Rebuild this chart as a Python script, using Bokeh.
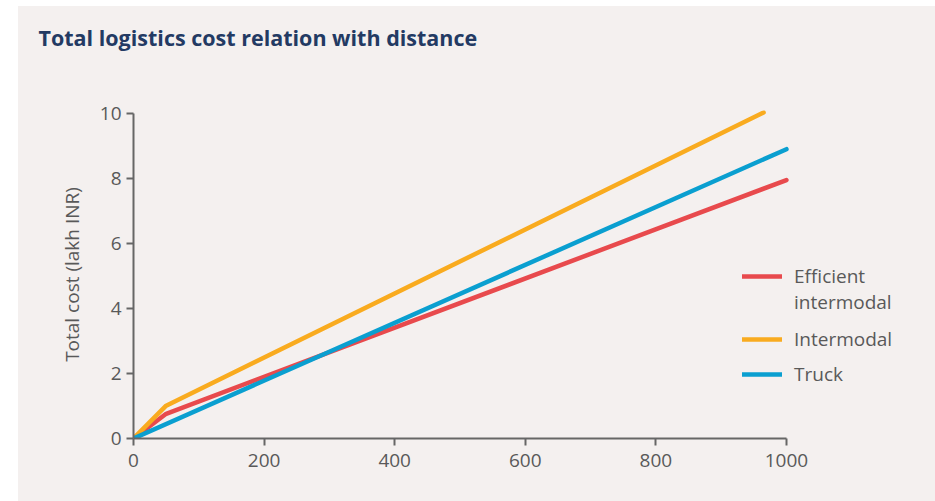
from bokeh.plotting import figure
from bokeh.models import Legend, LegendItem, Spacer, Range1d
from bokeh.layouts import row, column
from bokeh.embed import file_html
from bokeh.resources import INLINE

# Data
title_text = "Total logistics cost relation with distance"
series_names = ["Efficient intermodal", "Intermodal", "Truck"]
eff_x = [0, 50, 1000]
eff_y = [0, 0.76, 7.95]
inter_x = [0, 50, 965]
inter_y = [0, 1.01, 10.03]
truck_x = [0, 1000]
truck_y = [0, 8.9]
x_ticks = [0, 200, 400, 600, 800, 1000]
y_ticks = [0, 2, 4, 6, 8, 10]
colors = ["#e84a4d", "#f9ab1f", "#0a9fd0"]

BG = "#f4f0ef"
TXT = "#595959"
AX = "#666666"
FONT = "Open Sans"
LB, RB = 115, 25

# --- title strip: small figure whose only content is its title ---
TH = 64
tf = figure(width=917, height=TH, output_backend="svg", toolbar_location=None,
            x_range=Range1d(0, 1), y_range=Range1d(0, 1),
            min_border_left=LB, min_border_right=RB, min_border_top=0, min_border_bottom=0,
            x_axis_type=None, y_axis_type=None)
tf.grid.visible = False
tf.outline_line_color = None
tf.background_fill_color = BG
tf.border_fill_color = BG
tf.title.text = title_text
tf.title.text_font = FONT
tf.title.text_font_size = "21.5px"
tf.title.text_font_style = "bold"
tf.title.text_color = "#233a63"
tf.title.align = "left"
tf.title.offset = -95
tf.title.standoff = 28

# --- main chart ---
p = figure(width=917, height=495 - TH, output_backend="svg", toolbar_location=None,
           x_range=Range1d(0, 1190), y_range=Range1d(0, 10.09),
           min_border_left=LB, min_border_right=RB, min_border_top=40,
           min_border_bottom=63)
p.background_fill_color = BG
p.border_fill_color = BG
p.outline_line_color = None
p.xgrid.visible = False
p.ygrid.visible = False

xs = [eff_x, inter_x, truck_x]
ys = [eff_y, inter_y, truck_y]
rends = []
for xv, yv, c in zip(xs, ys, colors):
    r = p.line(xv, yv, line_color=c, line_width=4.5, line_cap="round", line_join="round")
    rends.append(r)
blank = p.line([], [], line_color=None)

for ax in (p.xaxis[0], p.yaxis[0]):
    ax.axis_line_color = AX
    ax.axis_line_width = 2
    ax.major_tick_line_color = AX
    ax.major_tick_line_width = 2
    ax.major_tick_out = 7
    ax.major_tick_in = 0
    ax.minor_tick_line_color = None
    ax.major_label_text_font = FONT
    ax.major_label_text_font_size = "19px"
    ax.major_label_text_color = TXT
p.xaxis.major_label_standoff = 8
p.yaxis.major_label_standoff = 5

p.xaxis.ticker = x_ticks
p.yaxis.ticker = y_ticks
p.xaxis.bounds = (0, 1000)
p.yaxis.bounds = (0, 10)
p.yaxis.axis_label = "Total cost (lakh INR)"
p.yaxis.axis_label_text_font = FONT
p.yaxis.axis_label_text_font_size = "19px"
p.yaxis.axis_label_text_font_style = "normal"
p.yaxis.axis_label_text_color = TXT
p.yaxis.axis_label_standoff = 12

first_words = series_names[0].split(" ")


def make_legend(items, loc, spacing):
    lg = Legend(items=items, location=loc, orientation="vertical")
    lg.background_fill_alpha = 0
    lg.border_line_color = None
    lg.padding = 0
    lg.margin = 0
    lg.spacing = spacing
    lg.glyph_width = 40
    lg.glyph_height = 20
    lg.label_height = 20
    lg.label_standoff = 12
    lg.label_text_font = FONT
    lg.label_text_font_size = "19px"
    lg.label_text_color = TXT
    return lg


leg_a = make_legend([LegendItem(label=first_words[0], renderers=[rends[0]]),
                     LegendItem(label=first_words[1], renderers=[blank])], (609, 123), 0)
leg_b = make_legend([LegendItem(label=series_names[1], renderers=[rends[1]]),
                     LegendItem(label=series_names[2], renderers=[rends[2]])], (609, 51), 9)
p.add_layout(leg_a, "center")
p.add_layout(leg_b, "center")

inner = column(tf, p, styles={"background-color": BG})
lay = column(Spacer(width=10, height=6),
             row(Spacer(width=18, height=495), inner))
open("out.html", "w").write(file_html(lay, INLINE))
